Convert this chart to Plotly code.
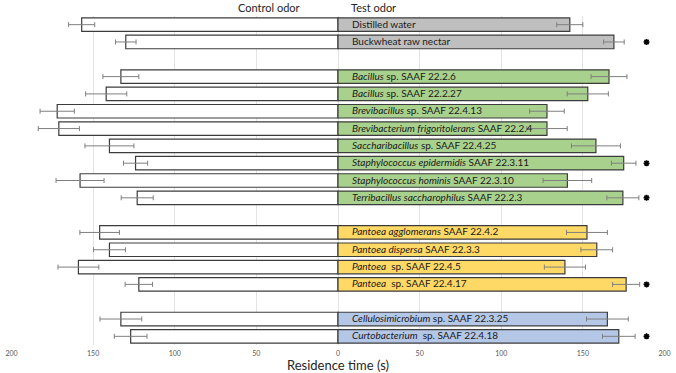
import plotly.graph_objects as go

# ---------------- data ----------------
labels = [
    "Distilled water",
    "Buckwheat raw nectar",
    "<i>Bacillus</i> sp. SAAF 22.2.6",
    "<i>Bacillus</i> sp. SAAF 22.2.27",
    "<i>Brevibacillus</i> sp. SAAF 22.4.13",
    "<i>Brevibacterium frigoritolerans</i> SAAF 22.2.4",
    "<i>Saccharibacillus</i> sp. SAAF 22.4.25",
    "<i>Staphylococcus epidermidis</i> SAAF 22.3.11",
    "<i>Staphylococcus hominis</i> SAAF 22.3.10",
    "<i>Terribacillus saccharophilus</i> SAAF 22.2.3",
    "<i>Pantoea agglomerans</i> SAAF 22.4.2",
    "<i>Pantoea dispersa</i> SAAF 22.3.3",
    "<i>Pantoea</i>  sp. SAAF 22.4.5",
    "<i>Pantoea</i>  sp. SAAF 22.4.17",
    "<i>Cellulosimicrobium</i> sp. SAAF 22.3.25",
    "<i>Curtobacterium</i>  sp. SAAF 22.4.18",
]
group = [0, 0, 1, 1, 1, 1, 1, 1, 1, 1, 2, 2, 2, 2, 3, 3]
control = [157, 130, 133, 142, 172, 171, 140, 124, 158, 123, 146, 140, 159, 122, 133, 127]
control_err = [8, 6.3, 11, 12.6, 10.5, 12.6, 15, 7.4, 14.7, 9.8, 12.1, 9.8, 12.5, 8.4, 12.8, 10]
test = [142, 169, 166, 153, 128, 128, 158, 175, 140.5, 174.5, 152.5, 158.5, 139, 176.5, 165, 172]
test_err = [8, 6.3, 11, 12.6, 10.6, 12.4, 15, 7.5, 14.9, 9.8, 12.5, 9.7, 12.6, 8.3, 12.8, 10]
significant = [False, True, False, False, False, False, False, True, False, True,
               False, False, False, True, False, True]
group_colors = ["#BFBFBF", "#A9D18E", "#FFD966", "#B4C7E7"]
tick_vals = [-200, -150, -100, -50, 0, 50, 100, 150, 200]
tick_text = ["200", "150", "100", "50", "0", "50", "100", "150", "200"]

# ---------------- styling constants ----------------
STAR_X = 189
FONT = "Lato"
OUTLINE = "#3c3c3c"
ERR_COLOR = "#7f7f7f"

# row positions: one empty row between groups
ypos = [i + g for i, g in enumerate(group)]
fills = [group_colors[g] for g in group]

fig = go.Figure()

fig.add_trace(go.Bar(
    y=ypos, x=[-v for v in control], orientation="h",
    marker=dict(color="white", line=dict(color=OUTLINE, width=1.2)),
    error_x=dict(type="data", array=control_err, color=ERR_COLOR, thickness=1, width=2.5),
    width=0.78, showlegend=False, hoverinfo="skip",
))
fig.add_trace(go.Bar(
    y=ypos, x=test, orientation="h",
    marker=dict(color=fills, line=dict(color=OUTLINE, width=1.2)),
    error_x=dict(type="data", array=test_err, color=ERR_COLOR, thickness=1, width=2.5),
    width=0.78, showlegend=False, hoverinfo="skip",
))

sig_y = [y for y, s in zip(ypos, significant) if s]
fig.add_trace(go.Scatter(
    x=[STAR_X] * len(sig_y), y=sig_y, mode="markers",
    marker=dict(symbol="asterisk-open", size=5, color="black",
                line=dict(color="black", width=1.6)),
    showlegend=False, hoverinfo="skip",
))

for y, lab in zip(ypos, labels):
    fig.add_annotation(x=0, y=y, xref="x", yref="y", text=lab, showarrow=False,
                       xanchor="left", yanchor="middle", xshift=12, yshift=1,
                       font=dict(family=FONT, size=10, color="#1a1a1a"))

fig.add_annotation(x=-42, y=1.027, xref="x", yref="paper", text="Control odor",
                   showarrow=False, xanchor="center", yanchor="middle",
                   font=dict(family=FONT, size=11, color="#262626"))
fig.add_annotation(x=21.5, y=1.027, xref="x", yref="paper", text="Test odor",
                   showarrow=False, xanchor="center", yanchor="middle",
                   font=dict(family=FONT, size=11, color="#262626"))
fig.add_annotation(x=0, y=-0.062, xref="x", yref="paper", text="Residence time (s)",
                   showarrow=False, xanchor="center", yanchor="middle",
                   font=dict(family=FONT, size=13, color="#262626"))

fig.update_layout(
    width=676, height=373,
    margin=dict(l=6, r=5, t=16, b=28),
    barmode="overlay",
    plot_bgcolor="white", paper_bgcolor="white",
    xaxis=dict(range=[-200.3, 200.3], tickvals=tick_vals, ticktext=tick_text,
               showgrid=True, gridcolor="#e3e3e3", gridwidth=1, zeroline=False,
               showline=False, ticks="", ticklabeloverflow="allow", ticklabelstandoff=3,
               tickfont=dict(family=FONT, size=7, color="#595959")),
    yaxis=dict(range=[18.5, -0.5], showgrid=False, zeroline=False, showline=False,
               showticklabels=False, ticks=""),
    font=dict(family=FONT),
)

fig.write_html("out.html", config={"displayModeBar": False},
               post_script="document.body.style.margin='0px';document.body.style.overflow='hidden';")
